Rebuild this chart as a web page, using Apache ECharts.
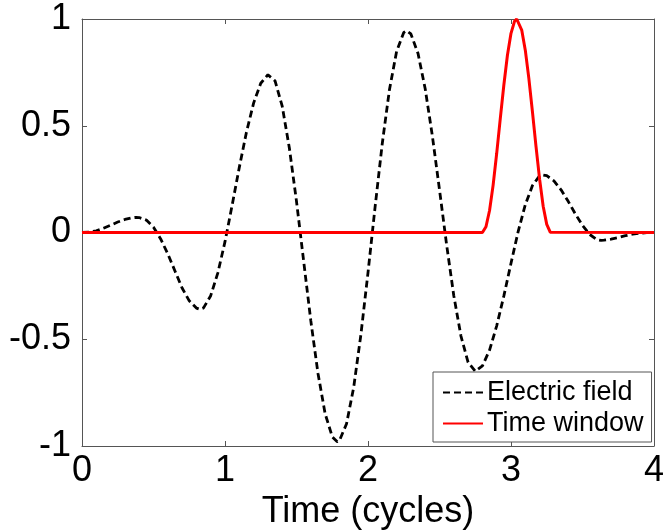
<!DOCTYPE html>
<html>
<head>
<meta charset="utf-8">
<title>Electric field and time window</title>
<script src="https://cdn.jsdelivr.net/npm/echarts@6/dist/echarts.min.js"></script>
<style>
	html, body { margin: 0; padding: 0; background: #fff; }
	#main { width: 665px; height: 530px; }
</style>
</head>
<body>
<div id="main"></div>
<script>
// 电场（虚线）采样点
var fieldTime = [0, 0.05, 0.1, 0.15, 0.2, 0.25, 0.3, 0.35, 0.378,
	0.4, 0.45, 0.5, 0.55, 0.6, 0.65, 0.7, 0.75, 0.8, 0.825,
	0.85, 0.9, 0.95, 1.0, 1.05, 1.1, 1.15, 1.2, 1.25, 1.3, 1.31,
	1.35, 1.4, 1.45, 1.5, 1.55, 1.6, 1.65, 1.7, 1.75, 1.785,
	1.8, 1.85, 1.9, 1.95, 2.0, 2.05, 2.1, 2.15, 2.2, 2.25, 2.27,
	2.3, 2.35, 2.4, 2.45, 2.5, 2.55, 2.6, 2.65, 2.7, 2.75,
	2.8, 2.85, 2.9, 2.95, 3.0, 3.05, 3.1, 3.15, 3.2, 3.22,
	3.25, 3.3, 3.35, 3.4, 3.45, 3.5, 3.55, 3.6, 3.63,
	3.65, 3.7, 3.75, 3.8, 3.85, 3.9, 3.95, 4.0];
var fieldValue = [0, 0.002, 0.008, 0.02, 0.034, 0.049, 0.061, 0.069, 0.071,
	0.07, 0.058, 0.025, -0.03, -0.1, -0.18, -0.26, -0.32, -0.354, -0.36,
	-0.353, -0.296, -0.189, -0.043, 0.128, 0.305, 0.47, 0.606, 0.699, 0.739, 0.74,
	0.71, 0.592, 0.396, 0.146, -0.134, -0.413, -0.659, -0.848, -0.957, -0.98,
	-0.975, -0.896, -0.725, -0.48, -0.188, 0.122, 0.418, 0.669, 0.848, 0.937, 0.945,
	0.93, 0.838, 0.673, 0.453, 0.2, -0.059, -0.296, -0.485, -0.608, -0.65,
	-0.625, -0.551, -0.437, -0.297, -0.144, 0.004, 0.13, 0.22, 0.266, 0.27,
	0.266, 0.242, 0.2, 0.146, 0.087, 0.033, -0.009, -0.033, -0.037,
	-0.036, -0.031, -0.024, -0.015, -0.008, -0.003, -0.001, 0];

// 时间窗（红线）采样点
var windowTime = [0, 2.8, 2.825, 2.85, 2.875, 2.9, 2.925, 2.95, 2.975, 3.0, 3.025, 3.04,
	3.05, 3.075, 3.1, 3.125, 3.15, 3.175, 3.2, 3.225, 3.25, 3.275, 3.28, 4];
var windowValue = [0, 0, 0.027, 0.103, 0.222, 0.371, 0.533, 0.691, 0.83, 0.933, 0.99, 1,
	0.996, 0.948, 0.854, 0.721, 0.565, 0.402, 0.25, 0.123, 0.038, 0.001, 0, 0];

var xTicks = [0, 1, 2, 3, 4];
var yTicks = [-1, -0.5, 0, 0.5, 1];
var seriesNames = ['Electric field', 'Time window'];

function pairs(xs, ys){
	var out = [];
	for(var i = 0; i < xs.length; i++){
		out.push([xs[i], ys[i]]);
	}
	return out;
}

var font = 'Liberation Sans, Arial, Helvetica, sans-serif';
var axisColor = '#555';

var myChart = echarts.init(document.getElementById('main'), null, {renderer: 'canvas'});
var option = {
	animation: false,
	backgroundColor: '#fff',
	textStyle: {fontFamily: font},
	grid: {
		left: 82,
		right: 11,
		top: 19,
		bottom: 84,
		containLabel: false,
		outerBoundsMode: 'none'
	},
	legend: {
		data: seriesNames,
		orient: 'vertical',
		left: 433,
		top: 372,
		padding: [7, 8, 5, 9],
		itemGap: 4,
		itemWidth: 40,
		itemHeight: 14,
		// 图例只画线，不画圆点
		itemStyle: {opacity: 0},
		backgroundColor: '#fff',
		borderColor: axisColor,
		borderWidth: 1,
		borderRadius: 0,
		textStyle: {
			fontFamily: font,
			fontSize: 27,
			color: '#000',
			padding: [0, 0, 0, -1]
		}
	},
	xAxis: [{
		type: 'value',
		min: xTicks[0],
		max: xTicks[xTicks.length - 1],
		interval: 1,
		name: 'Time (cycles)',
		nameLocation: 'middle',
		nameGap: 40,
		nameTextStyle: {fontFamily: font, fontSize: 36, color: '#000'},
		axisLine: {onZero: false, lineStyle: {color: axisColor, width: 1}},
		axisTick: {inside: true, length: 5, lineStyle: {color: axisColor}},
		axisLabel: {fontFamily: font, fontSize: 36, color: '#000', margin: 7},
		splitLine: {show: false}
	},{
		type: 'value',
		position: 'top',
		min: xTicks[0],
		max: xTicks[xTicks.length - 1],
		interval: 1,
		axisLine: {onZero: false, lineStyle: {color: axisColor, width: 1}},
		axisTick: {inside: true, length: 5, lineStyle: {color: axisColor}},
		axisLabel: {show: false},
		splitLine: {show: false}
	}],
	yAxis: [{
		type: 'value',
		min: yTicks[0],
		max: yTicks[yTicks.length - 1],
		interval: 0.5,
		axisLine: {show: true, onZero: false, lineStyle: {color: axisColor, width: 1}},
		axisTick: {show: true, inside: true, length: 5, lineStyle: {color: axisColor}},
		axisLabel: {fontFamily: font, fontSize: 36, color: '#000', margin: 11},
		splitLine: {show: false}
	},{
		type: 'value',
		position: 'right',
		min: yTicks[0],
		max: yTicks[yTicks.length - 1],
		interval: 0.5,
		axisLine: {show: true, onZero: false, lineStyle: {color: axisColor, width: 1}},
		axisTick: {show: true, inside: true, length: 5, lineStyle: {color: axisColor}},
		axisLabel: {show: false},
		splitLine: {show: false}
	}],
	series: [{
		name: seriesNames[0],
		type: 'line',
		symbol: 'none',
		smooth: false,
		color: '#000',
		lineStyle: {color: '#000', width: 2.8, type: [7, 4]},
		data: pairs(fieldTime, fieldValue),
		z: 2
	},{
		name: seriesNames[1],
		type: 'line',
		symbol: 'none',
		smooth: false,
		color: '#ff0000',
		lineStyle: {color: '#ff0000', width: 3, type: 'solid'},
		data: pairs(windowTime, windowValue),
		z: 3
	}]
};
myChart.setOption(option);
</script>
</body>
</html>
